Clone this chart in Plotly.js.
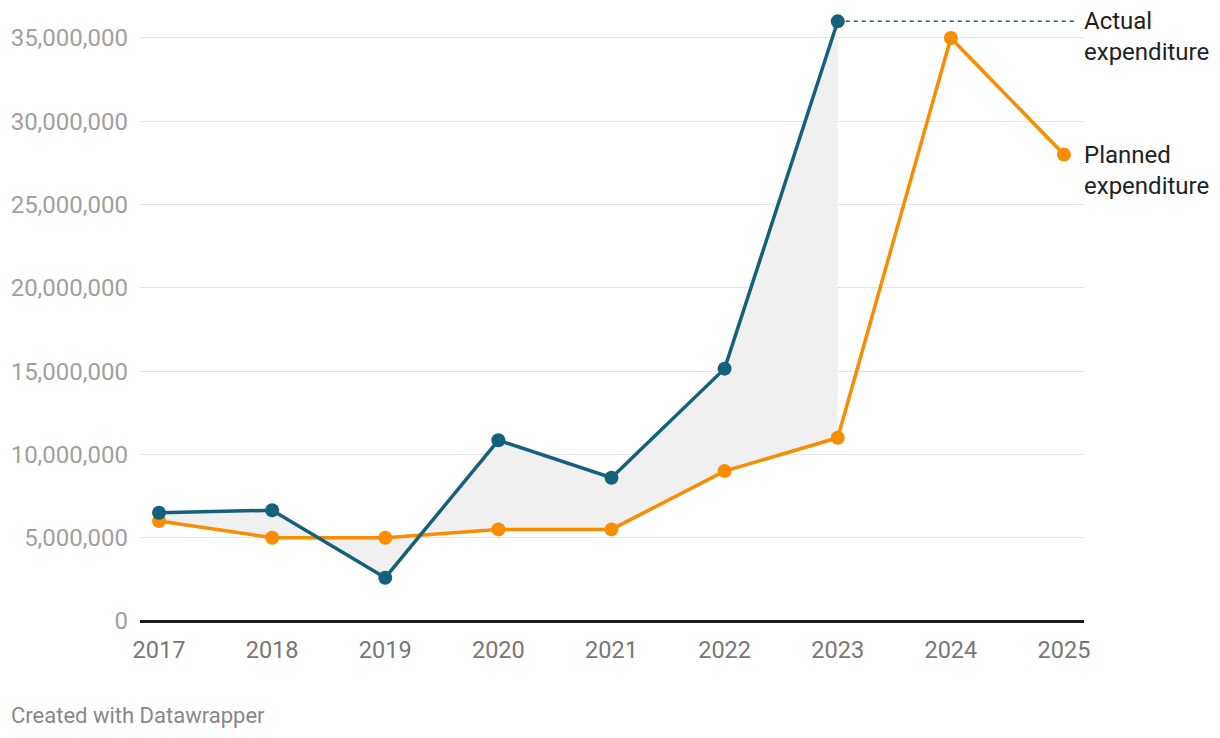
<!DOCTYPE html>
<html>
<head>
<meta charset="utf-8">
<script src="https://cdn.plot.ly/plotly-3.0.1.min.js"></script>
<style>
html,body{margin:0;padding:0;background:#fff;}
#chart{width:1220px;height:738px;}
</style>
</head>
<body>
<div id="chart"></div>
<script>
const years = [2017, 2018, 2019, 2020, 2021, 2022, 2023, 2024, 2025];
const actualYears = [2017, 2018, 2019, 2020, 2021, 2022, 2023];
const actual = [6500000, 6650000, 2600000, 10850000, 8600000, 15150000, 36000000];
const planned = [6000000, 5000000, 5000000, 5500000, 5500000, 9000000, 11000000, 35000000, 28000000];
const yTicks = [0, 5000000, 10000000, 15000000, 20000000, 25000000, 30000000, 35000000];
const seriesLabels = ["Actual<br>expenditure", "Planned<br>expenditure"];
const footer = "Created with Datawrapper";

const colActual = "#15607a";
const colPlanned = "#fa8c00";

const plannedOverlap = planned.slice(0, actualYears.length);

const traces = [
  {x: actualYears, y: plannedOverlap, mode: "lines", line: {width: 0, color: "rgba(0,0,0,0)"}, hoverinfo: "skip", showlegend: false},
  {x: actualYears, y: actual, mode: "lines", fill: "tonexty", fillcolor: "#f0f0f0", line: {width: 0, color: "rgba(0,0,0,0)"}, hoverinfo: "skip", showlegend: false},
  {x: years, y: planned, mode: "lines+markers", line: {color: colPlanned, width: 3.5}, marker: {color: colPlanned, size: 14}, showlegend: false, cliponaxis: false},
  {x: actualYears, y: actual, mode: "lines+markers", line: {color: colActual, width: 3.5}, marker: {color: colActual, size: 14}, showlegend: false, cliponaxis: false}
];

const lastActualYear = actualYears[actualYears.length - 1];
const lastActual = actual[actual.length - 1];
const lastPlanned = planned[planned.length - 1];

const layout = {
  width: 1220, height: 738,
  margin: {l: 140, r: 136, t: 10, b: 117},
  paper_bgcolor: "#fff", plot_bgcolor: "#fff",
  font: {family: "Roboto, sans-serif"},
  xaxis: {
    range: [2016.832, 2025.177],
    tickvals: years, ticktext: years.map(String),
    showgrid: false, zeroline: false, showline: false,
    ticks: "", tickfont: {size: 23.5, color: "#777"}, ticklabelstandoff: 12,
    fixedrange: true
  },
  yaxis: {
    range: [0, 36680000],
    tickvals: yTicks, tickformat: ",d",
    showgrid: true, gridcolor: "#e4e4e4", gridwidth: 1,
    zeroline: true, zerolinecolor: "#1a1a1a", zerolinewidth: 3,
    showline: false, ticks: "",
    tickfont: {size: 24, color: "#a0a0a0"}, ticklabelstandoff: 11,
    fixedrange: true
  },
  shapes: [
    {type: "line", xref: "x", yref: "y", x0: lastActualYear, x1: 2025.1, y0: lastActual, y1: lastActual,
     line: {color: colActual, width: 1.5, dash: "4px,4px"}, layer: "below"}
  ],
  annotations: [
    {xref: "x", yref: "y", x: 2025.177, y: lastActual, xanchor: "left", yanchor: "top", yshift: 16, xshift: -2,
     text: seriesLabels[0], showarrow: false, align: "left", font: {size: 24, color: "#222"}},
    {xref: "x", yref: "y", x: 2025.177, y: lastPlanned, xanchor: "left", yanchor: "top", yshift: 16, xshift: -2,
     text: seriesLabels[1], showarrow: false, align: "left", font: {size: 24, color: "#222"}},
    {xref: "paper", yref: "paper", x: 0, y: 0, xanchor: "left", yanchor: "middle", xshift: -131, yshift: -94,
     text: footer, showarrow: false, font: {size: 22, color: "#888"}}
  ]
};

Plotly.newPlot("chart", traces, layout, {displayModeBar: false, staticPlot: true});
</script>
</body>
</html>
